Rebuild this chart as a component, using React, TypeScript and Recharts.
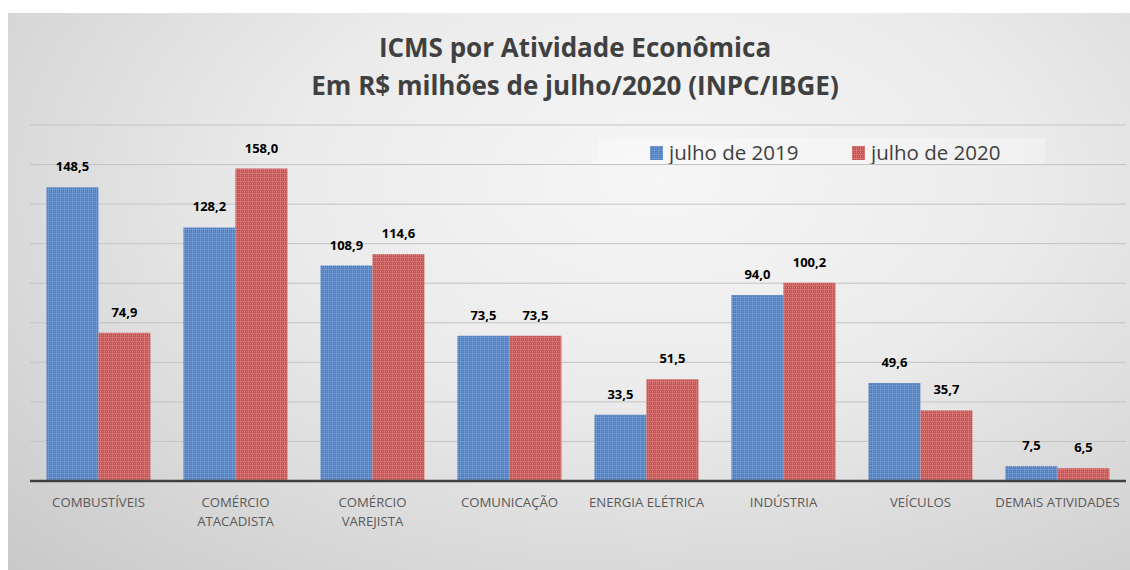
import React from 'react';
import { BarChart, Bar, XAxis, YAxis, CartesianGrid, LabelList } from 'recharts';

const categories = [
  'COMBUSTÍVEIS',
  'COMÉRCIO\nATACADISTA',
  'COMÉRCIO\nVAREJISTA',
  'COMUNICAÇÃO',
  'ENERGIA ELÉTRICA',
  'INDÚSTRIA',
  'VEÍCULOS',
  'DEMAIS ATIVIDADES',
];
const julho2019 = [148.5, 128.2, 108.9, 73.5, 33.5, 94.0, 49.6, 7.5];
const julho2020 = [74.9, 158.0, 114.6, 73.5, 51.5, 100.2, 35.7, 6.5];
const yTicks = [0, 20, 40, 60, 80, 100, 120, 140, 160, 180];

const data = categories.map((name, i) => ({ name, y2019: julho2019[i], y2020: julho2020[i] }));

const FONT = '"Open Sans", "Noto Sans", sans-serif';

const fmt = (v: any) => Number(v).toFixed(1).replace('.', ',');

const CategoryTick = (props: any) => {
  const { x, y, payload } = props;
  const lines = String(payload.value).split('\n');
  return (
    <text x={x} y={y} textAnchor="middle" fill="#595959" fontFamily={FONT} fontSize={13.2}>
      {lines.map((l, i) => (
        <tspan key={i} x={x} dy={i === 0 ? 18 : 19}>{l}</tspan>
      ))}
    </text>
  );
};

const LegendSwatch = ({ fill }: { fill: string }) => (
  <svg width={13} height={14} style={{ marginRight: 6, verticalAlign: 'middle', position: 'relative', top: -2 }}>
    <rect width={13} height={14} fill={fill} />
  </svg>
);

const labelStyle = { fill: '#000', fontWeight: 700, fontSize: 13, fontFamily: FONT };

export default function App() {
  return (
    <div>
      <style>{`body{margin:0;overflow:hidden}`}</style>
      <div
        style={{
          position: 'absolute',
          left: 8,
          top: 13,
          width: 1122,
          height: 557,
          background: 'radial-gradient(ellipse at 58% 30%, #f6f6f6 0%, #ebebeb 40%, #c9c9c9 100%)',
          fontFamily: FONT,
        }}
      >
        <div
          style={{
            position: 'absolute',
            left: 0,
            width: 1134,
            top: 15,
            textAlign: 'center',
            color: '#404040',
            fontWeight: 700,
            fontSize: 26,
            lineHeight: '38px',
          }}
        >
          ICMS por Atividade Econômica
          <br />
          Em R$ milhões de julho/2020 (INPC/IBGE)
        </div>
        <div
          style={{
            position: 'absolute',
            left: 590,
            top: 125,
            width: 447,
            height: 26,
            background: 'rgba(255,255,255,0.3)',
            color: '#404040',
            fontSize: 20.5,
            lineHeight: '28px',
            whiteSpace: 'nowrap',
          }}
        >
          <span style={{ position: 'absolute', left: 52, top: 0 }}>
            <LegendSwatch fill="url(#patBlue)" />
            julho de 2019
          </span>
          <span style={{ position: 'absolute', left: 254, top: 0 }}>
            <LegendSwatch fill="url(#patRed)" />
            julho de 2020
          </span>
        </div>
        <BarChart
          width={1122}
          height={557}
          data={data}
          margin={{ top: 112, right: 4, left: 22, bottom: 49 }}
          barCategoryGap="12%"
          barGap={0}
          style={{ position: 'absolute', left: 0, top: 0 }}
        >
          <defs>
            <pattern id="patBlue" width={4} height={4} patternUnits="userSpaceOnUse">
              <rect width={4} height={4} fill="#4f7fc0" />
              <rect x={0} y={0} width={4} height={1} fill="#6f97d0" />
              <rect x={0} y={0} width={1} height={4} fill="#6f97d0" />
              <rect x={2} y={2} width={1} height={1} fill="#7ea2d6" />
            </pattern>
            <pattern id="patRed" width={4} height={4} patternUnits="userSpaceOnUse">
              <rect width={4} height={4} fill="#c65250" />
              <rect x={0} y={0} width={4} height={1} fill="#d67573" />
              <rect x={0} y={0} width={1} height={4} fill="#d67573" />
              <rect x={2} y={2} width={1} height={1} fill="#dd8886" />
            </pattern>
          </defs>
          <CartesianGrid vertical={false} stroke="#c3c3c3" />
          <XAxis
            dataKey="name"
            interval={0}
            height={40}
            tick={<CategoryTick />}
            tickLine={false}
            axisLine={{ stroke: '#404040', strokeWidth: 2.5 }}
          />
          <YAxis hide domain={[0, 180]} ticks={yTicks} />
          <Bar dataKey="y2019" fill="url(#patBlue)" isAnimationActive={false}>
            <LabelList dataKey="y2019" position="top" offset={16} formatter={fmt} style={labelStyle} />
          </Bar>
          <Bar dataKey="y2020" fill="url(#patRed)" isAnimationActive={false}>
            <LabelList dataKey="y2020" position="top" offset={16} formatter={fmt} style={labelStyle} />
          </Bar>
        </BarChart>
      </div>
    </div>
  );
}
